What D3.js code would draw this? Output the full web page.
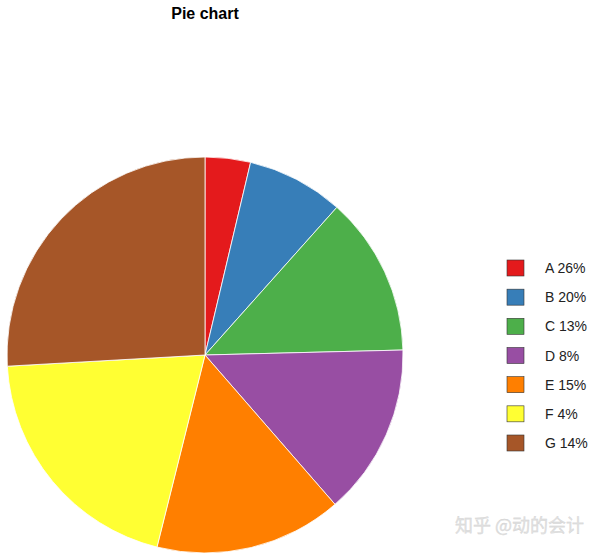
<!DOCTYPE html>
<html><head><meta charset="utf-8">
<script src="https://cdn.jsdelivr.net/npm/d3@7"></script>
<style>body{margin:0;background:#fff}svg{display:block}</style>
</head><body>
<svg id="c" width="600" height="554"></svg>
<script>
const categories = ["A","B","C","D","E","F","G"];
const values = [3.7, 7.9, 13, 14, 15.3, 20.2, 25.9];
const legendLabels = ["A 26%","B 20%","C 13%","D 8%","E 15%","F 4%","G 14%"];
const colors = ["#E41A1C","#377EB8","#4DAF4A","#984EA3","#FF7F00","#FFFF33","#A65628"];

const svg = d3.select("#c");
const cx = 205, cy = 355, r = 198;
const color = d3.scaleOrdinal().domain(categories).range(colors);
const data = categories.map((c,i)=>({cat:c, v:values[i], label:legendLabels[i]}));
const pie = d3.pie().value(d=>d.v).sort(null);
const arc = d3.arc().innerRadius(0).outerRadius(r);

svg.append("g").attr("transform",`translate(${cx},${cy})`)
  .selectAll("path").data(pie(data)).join("path")
  .attr("d", arc).attr("fill", d=>color(d.data.cat))
  .attr("stroke","#fff").attr("stroke-width",0.8);

svg.append("text").attr("x",205).attr("y",19).attr("text-anchor","middle")
  .attr("font-family","Liberation Sans, Arial, sans-serif").attr("font-weight","bold")
  .attr("font-size",16).text("Pie chart");

const ly = d3.scalePoint().domain(categories).range([268, 443]);
const lg = svg.append("g");
const rows = lg.selectAll("g").data(data).join("g")
  .attr("transform", d=>`translate(507,${ly(d.cat)})`);
rows.append("rect").attr("x",0).attr("y",-8).attr("width",17).attr("height",16)
  .attr("fill", d=>color(d.cat)).attr("stroke","#333").attr("stroke-width",0.6);
rows.append("text").attr("x",38).attr("y",5)
  .attr("font-family","Liberation Sans, Arial, sans-serif").attr("font-size",14)
  .attr("fill","#222").text(d=>d.label);

svg.append("text").attr("x",455).attr("y",532)
  .attr("font-family","Noto Sans CJK SC, sans-serif").attr("font-size",18)
  .attr("fill","#e2e2e2").attr("stroke","#cfcfcf").attr("stroke-width",0.3)
  .text("知乎 @动的会计");
</script>
</body></html>
